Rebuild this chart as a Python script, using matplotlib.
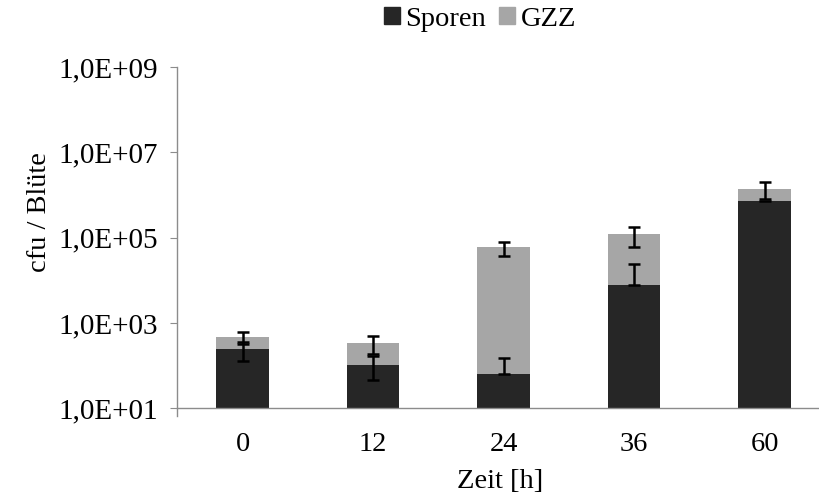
import numpy as np
import matplotlib
matplotlib.use("Agg")
import matplotlib.pyplot as plt
from matplotlib.patches import Patch

plt.rcParams['font.family'] = 'serif'
plt.rcParams['font.serif'] = ['Liberation Serif', 'Times New Roman', 'DejaVu Serif']

zeit = ['0', '12', '24', '36', '60']
sporen = [243, 106, 65, 7600, 7.2e5]
gesamt = [472, 341, 59000, 119500, 1.4e6]          # Sporen + GZZ (top of stack)
sporen_err = [112, 60, 86, 16000, np.nan]
gesamt_err = [145, 150, 21000, 60000, 580000]

dark = '#262626'
light = '#a6a6a6'

fig = plt.figure(figsize=(8.19, 5.0), dpi=100)
ax = fig.add_axes([177.3 / 819, 1 - 408.3 / 500, 652.5 / 819, (408.3 - 67) / 500])

x = np.arange(len(zeit))
sp = np.array(sporen)
ge = np.array(gesamt)
gzz = ge - sp
w = 0.4

ax.bar(x, sp, width=w, color=dark, label='Sporen', zorder=2)
ax.bar(x, gzz, bottom=sp, width=w, color=light, label='GZZ', zorder=2)

se = np.array(sporen_err)
se_low = np.where(se < sp, se, 0.0)
ax.errorbar(x, sp, yerr=[se_low, se], fmt='none', ecolor='black',
            elinewidth=1.8, capsize=4, capthick=1.8, zorder=3)
ge_err = np.array(gesamt_err)
ax.errorbar(x, ge, yerr=[ge_err, ge_err], fmt='none', ecolor='black',
            elinewidth=1.8, capsize=4, capthick=1.8, zorder=3)

ax.set_yscale('log')
ax.set_ylim(1e1, 1e9)
ax.set_xlim(-0.5, len(zeit) - 0.5)
yt = [1e1, 1e3, 1e5, 1e7, 1e9]
ax.set_yticks(yt)
ax.set_yticklabels(['1,0E+%02d' % int(round(np.log10(v))) for v in yt])
ax.yaxis.set_minor_locator(matplotlib.ticker.NullLocator())
ax.set_xticks(x)
ax.set_xticklabels(zeit)

for s in ['top', 'right']:
    ax.spines[s].set_visible(False)
for s in ['left', 'bottom']:
    ax.spines[s].set_color('#8c8c8c')
    ax.spines[s].set_linewidth(1.0)
ax.spines['left'].set_bounds(10 ** 0.82, 1e9)

ax.tick_params(axis='y', direction='out', length=5, color='#8c8c8c',
               labelsize=21, pad=9)
ax.tick_params(axis='x', length=0, labelsize=20.5, pad=17)

fig.text(500 / 819, 1 - 482 / 500, 'Zeit [h]', ha='center', va='center', fontsize=20.5)
fig.text(40 / 819, 1 - 212 / 500, 'cfu / Blüte', ha='center', va='center',
         fontsize=20.5, rotation=90)

handles = [Patch(color=dark, label='Sporen'), Patch(color=light, label='GZZ')]
fig.legend(handles=handles, loc='center', bbox_to_anchor=(480 / 819, 1 - 19 / 500),
           ncol=2, frameon=False, fontsize=20.5, handlelength=0.55, handleheight=0.55,
           handletextpad=0.2, columnspacing=0.45)

fig.savefig('out.png', dpi=100)
